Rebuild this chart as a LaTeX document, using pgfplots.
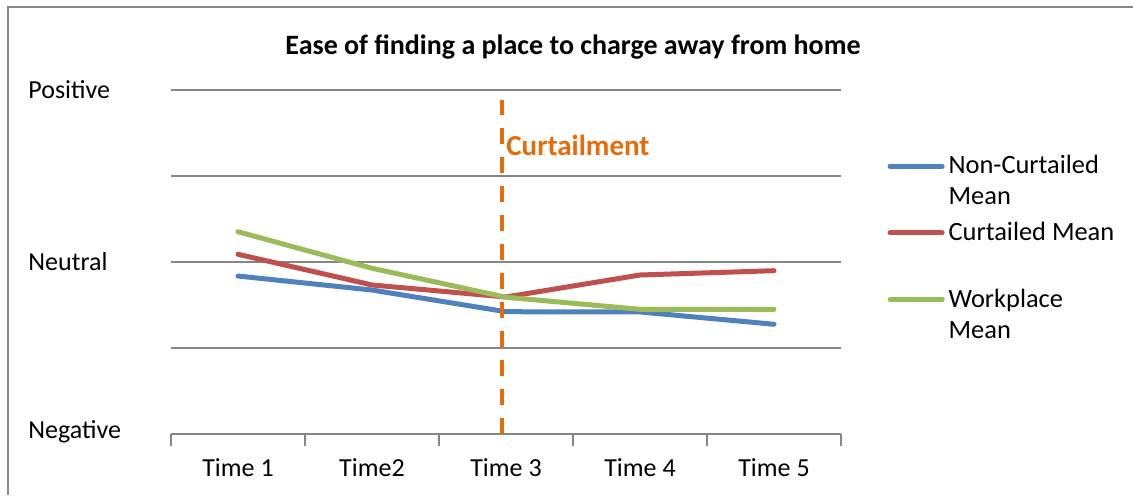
\documentclass[border=0pt]{standalone}
\usepackage{pgfplots}
\pgfplotsset{compat=1.18}
\usepackage{fontspec}
\setmainfont{Carlito}
\definecolor{cBlue}{HTML}{4F81BD}
\definecolor{cRed}{HTML}{C0504D}
\definecolor{cGreen}{HTML}{9BBB59}
\definecolor{cOrange}{HTML}{E46C0A}
\definecolor{cGrid}{HTML}{868686}
\begin{document}
\begin{tikzpicture}
\fontsize{13}{15.5}\selectfont
\useasboundingbox (0,0) rectangle (566.5pt,247.5pt);
\draw[cGrid, line width=1pt] (3.75pt,0pt) -- (3.75pt,244pt) -- (566.5pt,244pt);
\node[font=\fontsize{14}{16.8}\selectfont\bfseries] at (286.5pt,224pt) {Ease of finding a place to charge away from home};
\begin{axis}[
  at={(85.5pt,30.5pt)}, anchor=south west,
  scale only axis, width=335pt, height=172pt,
  xmin=0.5, xmax=5.5, ymin=1, ymax=5,
  axis line style={draw=none},
  ytick={1,2,3,4,5},
  yticklabels={\raisebox{4.5pt}{Negative},,Neutral,,Positive},
  ymajorgrids, grid style={cGrid, line width=1pt},
  major tick length=0pt,
  xtick={1,2,3,4,5},
  xticklabels={Time 1,Time2,Time 3,Time 4,Time 5},
  extra x ticks={0.5,1.5,2.5,3.5,4.5,5.5},
  extra x tick labels={},
  extra x tick style={major tick length=6pt, tick align=outside, tick style={cGrid, line width=1pt}, grid=none},
  xtick pos=bottom, ytick pos=left,
  tick label style={font=\fontsize{13}{15.5}\selectfont},
  yticklabel style={anchor=west, inner sep=0pt, xshift=-71.5pt},
  xticklabel style={anchor=north, inner sep=0pt, yshift=-12pt},
  legend style={draw=none, fill=none, at={(1.069,0.832)}, anchor=north west, inner sep=0pt, row sep=16.5pt,
    font=\fontsize{13.2}{15.5}\selectfont, cells={anchor=base west, inner xsep=2pt}},
  legend cell align=left,
  legend image code/.code={\draw[#1, line cap=round] (0pt,-0.6pt) -- (26pt,-0.6pt);},
  clip=false,
]
\addplot[cBlue, line width=2.5pt, line cap=round, line join=round] coordinates {(1,2.837) (2,2.674) (3,2.422) (4,2.419) (5,2.276)};
\addlegendentry{\begin{tabular}[t]{@{}l@{}}Non-Curtailed\\Mean\end{tabular}}
\addplot[cRed, line width=2.5pt, line cap=round, line join=round] coordinates {(1,3.09) (2,2.733) (3,2.593) (4,2.849) (5,2.899)};
\addlegendentry{\begin{tabular}[t]{@{}l@{}}Curtailed Mean\\\strut\end{tabular}}
\addplot[cGreen, line width=2.5pt, line cap=round, line join=round] coordinates {(1,3.352) (2,2.927) (3,2.59) (4,2.45) (5,2.45)};
\addlegendentry{\begin{tabular}[t]{@{}l@{}}Workplace\\Mean\end{tabular}}
\addplot[cOrange, line width=2pt, dash pattern=on 8pt off 6.5pt, forget plot] coordinates {(2.97,1) (2.97,4.88)};
\node[anchor=west, text=cOrange, font=\fontsize{14.5}{17}\selectfont\bfseries, inner sep=2pt] at (axis cs:2.97,4.36) {Curtailment};
\end{axis}
\end{tikzpicture}
\end{document}
